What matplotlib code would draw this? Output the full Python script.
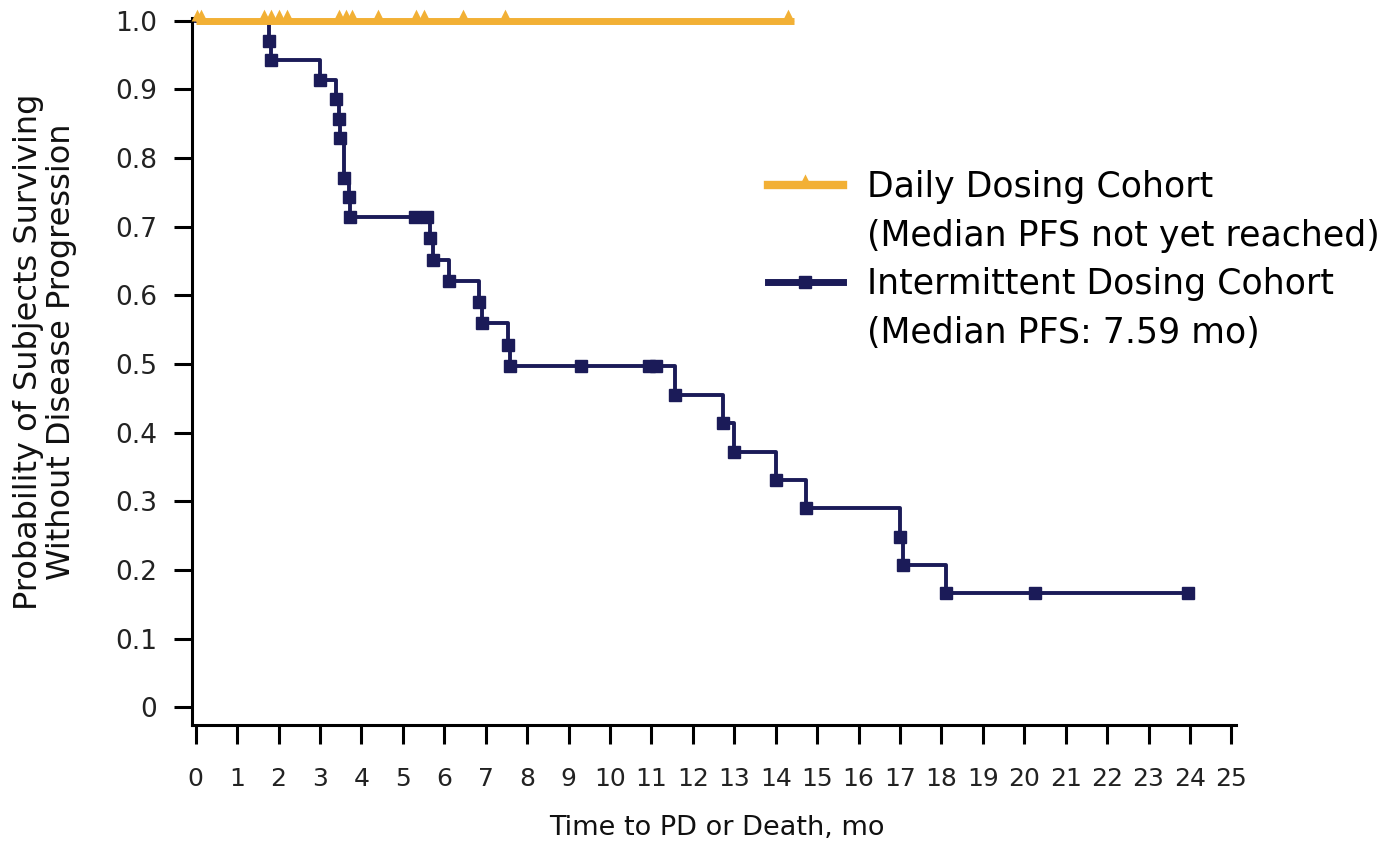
import matplotlib.pyplot as plt
from matplotlib.lines import Line2D

plt.rcParams["font.family"] = ["DejaVu Sans"]

# Daily dosing cohort: nobody progressed, only censoring ticks at 1.0
daily_time = [0, 14.45]
daily_surv = [1.0, 1.0]
daily_censor = [0.02, 0.13, 1.66, 1.83, 2.02, 2.2, 3.47, 3.62, 3.77,
                4.39, 5.32, 5.52, 6.45, 7.47, 14.3]

# Intermittent dosing cohort: Kaplan-Meier steps (time in months, survival after the step)
interm_time = [0, 1.76, 1.83, 3.01, 3.38, 3.47, 3.49, 3.57, 3.69, 3.73,
               5.65, 5.74, 6.11, 6.85, 6.91, 7.55, 7.59, 11.58, 12.72,
               12.99, 14.00, 14.72, 17.00, 17.08, 18.12, 23.95]
interm_surv = [1.0, 0.971, 0.943, 0.914, 0.886, 0.857, 0.829, 0.771, 0.743, 0.714,
               0.683, 0.652, 0.621, 0.590, 0.559, 0.528, 0.497, 0.455, 0.414,
               0.372, 0.331, 0.290, 0.248, 0.207, 0.166, 0.166]
# censored subjects on the plateaus
interm_cens_t = [5.30, 5.58, 9.29, 10.95, 11.1, 20.27, 23.95]
interm_cens_s = [0.714, 0.714, 0.497, 0.497, 0.497, 0.166, 0.166]

x_ticks = list(range(0, 26))
y_ticks = [0, 0.1, 0.2, 0.3, 0.4, 0.5, 0.6, 0.7, 0.8, 0.9, 1.0]
y_ticklabels = ["0", "0.1", "0.2", "0.3", "0.4", "0.5", "0.6", "0.7", "0.8", "0.9", "1.0"]

labels = ["Daily Dosing Cohort", "(Median PFS not yet reached)",
          "Intermittent Dosing Cohort", "(Median PFS: 7.59 mo)"]

YELLOW = "#F2B035"
NAVY = "#1B1B58"

# triangle with its base on the line, tip pointing up
TRI = [(-0.5, 0), (0.5, 0), (0, 1), (-0.5, 0)]


def plot_pfs(output_file="out.png"):
    fig = plt.figure(figsize=(13.95, 8.46), dpi=100)
    ax = fig.add_axes([0.1376, 0.1430, 0.7487, 0.8357])

    # intermittent cohort first so the yellow line sits on top at 1.0
    ax.step(interm_time, interm_surv, where="post", color=NAVY, lw=2.8, zorder=3)
    ax.plot(interm_time[1:-1], interm_surv[1:-1], ls="none", marker="s",
            ms=8, color=NAVY, zorder=4)
    ax.plot(interm_cens_t, interm_cens_s, ls="none", marker="s",
            ms=8, color=NAVY, zorder=4)

    ax.plot(daily_time, daily_surv, color=YELLOW, lw=5, zorder=5,
            solid_capstyle="butt", clip_on=False)
    ax.plot(daily_censor, [1.0] * len(daily_censor), ls="none", marker=TRI,
            ms=17, color=YELLOW, mew=0, zorder=6, clip_on=False)

    ax.set_xlim(-0.09, 25.12)
    ax.set_ylim(-0.026, 1.004)
    ax.set_xticks(x_ticks)
    ax.set_xticklabels([str(t) for t in x_ticks])
    ax.set_yticks(y_ticks)
    ax.set_yticklabels(y_ticklabels)

    for side in ["top", "right"]:
        ax.spines[side].set_visible(False)
    for side in ["left", "bottom"]:
        ax.spines[side].set_linewidth(2.2)
        ax.spines[side].set_color("black")

    ax.tick_params(axis="x", direction="out", length=14, width=2.2, pad=16,
                   labelsize=18, labelcolor="#222222")
    ax.tick_params(axis="y", direction="out", length=13, width=2.2, pad=12,
                   labelsize=19, labelcolor="#222222")

    fig.text(717 / 1395, 1 - 828 / 846, "Time to PD or Death, mo",
             ha="center", va="center", fontsize=19.5, color="#111111")
    fig.text(45 / 1395, 1 - 352 / 846,
             "Probability of Subjects Surviving\nWithout Disease Progression",
             rotation=90, ha="center", va="center", multialignment="center",
             fontsize=23, color="#111111", linespacing=1.05)

    # legend: handle only on the first line of each entry
    blank = Line2D([], [], color="none")
    h_daily = Line2D([], [], color=YELLOW, lw=6, marker=TRI, ms=16, mew=0)
    h_interm = Line2D([], [], color=NAVY, lw=5, marker="s", ms=9)
    ax.legend([h_daily, blank, h_interm, blank], labels,
              loc="upper left", bbox_to_anchor=(768 / 1395, 1 - 170 / 846),
              bbox_transform=fig.transFigure, frameon=False, fontsize=25,
              borderpad=0, borderaxespad=0, handlelength=2.15,
              handletextpad=0.7, labelspacing=0.42, numpoints=1)

    fig.savefig(output_file, dpi=100)
    plt.close(fig)


if __name__ == "__main__":
    plot_pfs()
